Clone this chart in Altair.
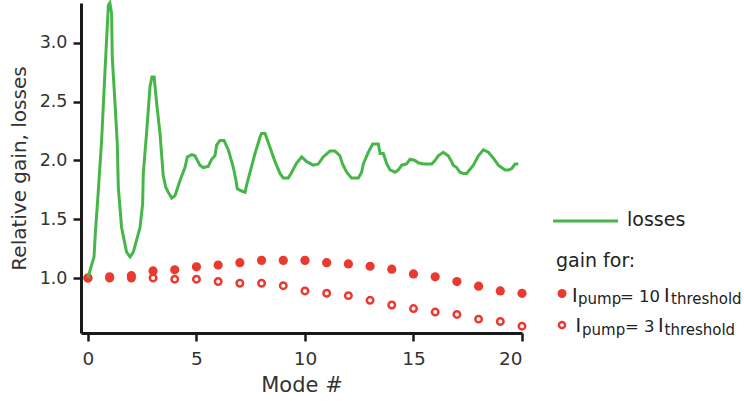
import altair as alt
import pandas as pd

# ---- data ----
modes = list(range(21))
gain_10 = [1.00, 1.01, 1.02, 1.06, 1.07, 1.095, 1.11, 1.13, 1.15, 1.15, 1.15,
           1.13, 1.12, 1.10, 1.075, 1.035, 1.01, 0.97, 0.93, 0.89, 0.87]
gain_3 = [1.00, 1.00, 1.00, 1.00, 0.99, 0.99, 0.97, 0.955, 0.955, 0.935, 0.89,
          0.87, 0.85, 0.81, 0.77, 0.74, 0.71, 0.69, 0.65, 0.63, 0.59]

loss_mode = [0.00, 0.12, 0.28, 0.34, 0.47, 0.63, 0.78, 0.94, 1.01, 1.09, 1.12,
             1.24, 1.35, 1.40, 1.55, 1.78, 1.94, 2.09, 2.40, 2.52, 2.55, 2.70,
             2.86, 2.95, 3.05, 3.17, 3.32, 3.47, 3.59, 3.73, 3.86, 4.01, 4.24,
             4.47, 4.58, 4.78, 4.93, 5.16, 5.31, 5.54, 5.70, 5.85, 5.93, 6.08,
             6.27, 6.47, 6.70, 6.82, 6.88, 7.08, 7.24, 7.31, 7.47, 7.70, 7.93,
             8.00, 8.16, 8.39, 8.62, 8.85, 9.00, 9.23, 9.39, 9.62, 9.85, 10.08,
             10.38, 10.61, 10.84, 11.15, 11.38, 11.61, 11.73, 11.92, 12.15,
             12.46, 12.61, 12.69, 12.92, 13.12, 13.38, 13.46, 13.61, 13.77,
             13.92, 14.15, 14.30, 14.46, 14.68, 14.84, 15.07, 15.22, 15.45,
             15.84, 15.99, 16.14, 16.37, 16.60, 16.76, 16.83, 16.99, 17.14,
             17.29, 17.45, 17.76, 17.99, 18.22, 18.45, 18.68, 18.91, 19.06,
             19.22, 19.37, 19.52, 19.68, 19.83]
loss_value = [1.00, 1.08, 1.18, 1.38, 1.72, 2.17, 2.74, 3.32, 3.34, 3.25, 2.88,
              2.51, 2.15, 1.77, 1.43, 1.22, 1.18, 1.22, 1.43, 1.63, 1.89, 2.23,
              2.63, 2.71, 2.71, 2.48, 2.23, 1.87, 1.77, 1.72, 1.68, 1.70, 1.83,
              1.94, 2.03, 2.05, 2.04, 1.96, 1.94, 1.95, 2.01, 2.04, 2.13, 2.17,
              2.17, 2.09, 1.94, 1.83, 1.76, 1.74, 1.73, 1.79, 1.90, 2.06, 2.20,
              2.23, 2.23, 2.11, 1.99, 1.89, 1.85, 1.85, 1.90, 1.98, 2.03, 1.99,
              1.96, 1.97, 2.03, 2.08, 2.08, 2.04, 1.97, 1.90, 1.85,
              1.85, 1.90, 1.97, 2.07, 2.14, 2.14, 2.06, 2.06, 1.97,
              1.92, 1.90, 1.92, 1.96, 1.97, 2.01, 2.00, 1.98, 1.97,
              1.97, 2.00, 2.04, 2.07, 2.04, 1.99, 1.96, 1.94, 1.90,
              1.89, 1.89, 1.96, 2.04, 2.09, 2.07, 2.02, 1.96, 1.94,
              1.92, 1.92, 1.93, 1.97, 1.97]

x_ticks = [0, 5, 10, 15, 20]
y_ticks = [1.0, 1.5, 2.0, 2.5, 3.0]

RED = "#EA3A30"
GREEN = "#46B649"
FONT = "DejaVu Sans"
TXT = "#333333"

df_gain = pd.DataFrame({"mode": modes, "gain10": gain_10, "gain3": gain_3})
df_loss = pd.DataFrame({"mode": loss_mode, "value": loss_value})
dummy = pd.DataFrame({"k": [0]})

# plot origin at page (81, 3)
OX, OY = 81, 3

xscale = alt.Scale(domain=[-0.32, 20], nice=False, zero=False)
yscale = alt.Scale(domain=[0.532, 3.34], nice=False, zero=False)

xaxis = alt.Axis(values=x_ticks, format="d", title="Mode #",
                 labelFontSize=18.5, labelPadding=8, titlePadding=7,
                 titleFontSize=21)
yaxis = alt.Axis(values=y_ticks, format=".1f", title="Relative gain, losses",
                 labelFontSize=17.5, labelPadding=6, titleFontSize=20,
                 titleX=19 - OX, titleY=168 - OY, titleAlign="center",
                 titleBaseline="middle")

X = alt.X("mode:Q", scale=xscale, axis=xaxis, title="Mode #")

hollow = alt.Chart(df_gain).mark_point(
    shape="circle", filled=False, color=RED, size=42, strokeWidth=2.5, opacity=1
).encode(
    x=X,
    y=alt.Y("gain3:Q", scale=yscale, axis=yaxis, title="Relative gain, losses"),
)

filled = alt.Chart(df_gain).mark_circle(color=RED, size=85, opacity=1).encode(
    x=X,
    y=alt.Y("gain10:Q", scale=yscale, axis=yaxis, title="Relative gain, losses"),
)

loss_line = alt.Chart(df_loss).mark_line(color=GREEN, strokeWidth=3).encode(
    x=X,
    y=alt.Y("value:Q", scale=yscale, axis=yaxis, title="Relative gain, losses"),
)

# ---- legend (drawn by hand) ----
def txt(s, px, py, size):
    return alt.Chart(dummy).mark_text(
        text=s, align="left", baseline="alphabetic", font=FONT,
        fontSize=size, color="#222222"
    ).encode(x=alt.value(px - OX), y=alt.value(py - OY))

leg_line = alt.Chart(dummy).mark_rule(color=GREEN, strokeWidth=3).encode(
    x=alt.value(553 - OX), x2=alt.value(618 - OX), y=alt.value(221 - OY)
)
leg_filled = alt.Chart(dummy).mark_circle(color=RED, size=80, opacity=1).encode(
    x=alt.value(562 - OX), y=alt.value(293.5 - OY)
)
leg_hollow = alt.Chart(dummy).mark_point(
    shape="circle", filled=False, color=RED, size=38, strokeWidth=2.5, opacity=1
).encode(x=alt.value(562 - OX), y=alt.value(325 - OY))

MAIN, SUB, EQ = 19, 15, 16.5
legend_texts = [
    txt("losses", 627, 226, MAIN),
    txt("gain for:", 556, 267, MAIN),
    txt("I", 572, 301.5, MAIN),
    txt("pump", 578, 304, SUB),
    txt("= 10", 620, 301.5, EQ),
    txt("I", 664, 301.5, MAIN),
    txt("threshold", 671, 304, SUB),
    txt("I", 575.5, 332, MAIN),
    txt("pump", 582, 334.5, SUB),
    txt("= 3", 625, 332, EQ),
    txt("I", 658, 332, MAIN),
    txt("threshold", 664.5, 334.5, SUB),
]

chart = alt.layer(
    hollow, filled, loss_line, leg_line, leg_filled, leg_hollow, *legend_texts
).properties(
    width=441, height=330,
    autosize=alt.AutoSizeParams(type="none"),
    padding={"left": OX, "top": OY, "right": 744 - OX - 441, "bottom": 401 - OY - 330},
).configure_view(stroke=None).configure_axis(
    grid=False,
    domainColor="#1a1a1a", domainWidth=3,
    tickColor="#1a1a1a", tickWidth=2.5, tickSize=8,
    labelFont=FONT, labelColor=TXT,
    titleFont=FONT, titleColor=TXT, titleFontWeight="normal",
)

chart.save("out.html", embed_options={"renderer": "svg", "actions": False})
